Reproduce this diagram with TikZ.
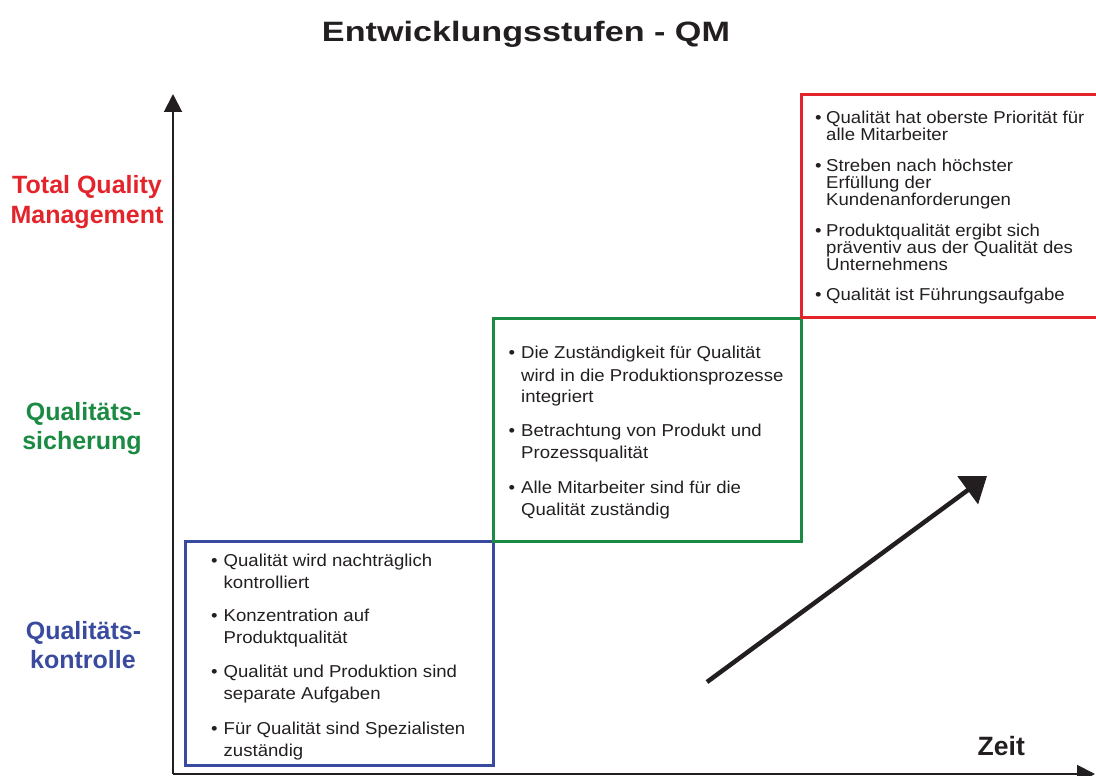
\documentclass[tikz,border=0pt]{standalone}
\usepackage{fontspec}
\usetikzlibrary{arrows.meta}
\newfontfamily\bodyfont{Liberation Sans}[FakeStretch=1.08]
\newfontfamily\headfont{Liberation Sans}[FakeStretch=1.22]
\newfontfamily\labelfont{Liberation Sans}
\definecolor{ink}{HTML}{231F20}
\definecolor{qmred}{HTML}{E3242B}
\definecolor{qmgreen}{HTML}{1B8A43}
\definecolor{qmblue}{HTML}{3A4B9F}
\tikzset{
  line/.style={anchor=base west, inner sep=0pt, text=ink,
    font=\bodyfont\fontsize{17.2}{20}\selectfont},
  stagelabel/.style={anchor=base, inner sep=0pt,
    font=\labelfont\bfseries\fontsize{25}{30}\selectfont},
  stagebox/.style={draw, line width=3pt},
  axis/.style={draw=ink, line width=2pt, -{Triangle[length=18pt,width=18pt]}},
}
\begin{document}
\begin{tikzpicture}[x=1pt, y=-1pt]
\useasboundingbox (0,0) rectangle (1096,776);

% title
\node (title) [anchor=base, inner sep=0pt, text=ink,
  font=\headfont\bfseries\fontsize{28}{32}\selectfont] at (526,41.7)
  {Entwicklungsstufen - QM};

% stage boxes
\draw[stagebox, qmblue]  (185,541) rectangle (493,765.5);
\draw[stagebox, qmgreen] (493,318) rectangle (801,541.5);
\draw[stagebox, qmred]   (801,94.5) rectangle (1100,317);

% axes
\coordinate (O) at (173,774);
\coordinate (ytip) at (173,94);
\coordinate (xtip) at (1095,774);
\draw[axis] (O) -- (ytip);
\draw[axis] (O) -- (xtip);
\node (zeit) [anchor=base west, inner sep=0pt, text=ink,
  font=\labelfont\bfseries\fontsize{26.5}{30}\selectfont] at (977.5,755) {Zeit};

% trend arrow
\coordinate (d0) at (707,682);
\coordinate (d1) at (987,476);
\draw[draw=ink, line width=4.5pt, -{Triangle[length=24pt,width=34pt]}] (d0) -- (d1);

% stage labels
\node (tq1) [stagelabel, text=qmred] at (87,193.5) {Total Quality};
\node (tq2) [stagelabel, text=qmred] at (87,223.5) {Management};
\node (qs1) [stagelabel, text=qmgreen] at (83.5,420.3) {Qualitäts-};
\node (qs2) [stagelabel, text=qmgreen] at (82,449.3) {sicherung};
\node (qk1) [stagelabel, text=qmblue] at (83.5,639.3) {Qualitäts-};
\node (qk2) [stagelabel, text=qmblue] at (83,668.3) {kontrolle};

% TQM items
\node (rb1) [line] at (815,123.5) {•};
\node (r1a) [line] at (826,123.5) {Qualität hat oberste Priorität für};
\node (r1b) [line] at (826,140.5) {alle Mitarbeiter};
\node (rb2) [line] at (815,171) {•};
\node (r2a) [line] at (826,171) {Streben nach höchster};
\node (r2b) [line] at (826,188) {Erfüllung der};
\node (r2c) [line] at (826,205) {Kundenanforderungen};
\node (rb3) [line] at (815,236) {•};
\node (r3a) [line] at (826,236) {Produktqualität ergibt sich};
\node (r3b) [line] at (826,253) {präventiv aus der Qualität des};
\node (r3c) [line] at (826,270) {Unternehmens};
\node (rb4) [line] at (815,300) {•};
\node (r4a) [line] at (826,300) {Qualität ist Führungsaufgabe};

% Qualitaetssicherung items
\node (gb1) [line] at (508.5,358.5) {•};
\node (g1a) [line] at (521,358.5) {Die Zuständigkeit für Qualität};
\node (g1b) [line] at (521,381) {wird in die Produktionsprozesse};
\node (g1c) [line] at (521,402.5) {integriert};
\node (gb2) [line] at (508.5,436.3) {•};
\node (g2a) [line] at (521,436.3) {Betrachtung von Produkt und};
\node (g2b) [line] at (521,458.3) {Prozessqualität};
\node (gb3) [line] at (508.5,493.3) {•};
\node (g3a) [line] at (521,493.3) {Alle Mitarbeiter sind für die};
\node (g3b) [line] at (521,515.3) {Qualität zuständig};

% Qualitaetskontrolle items
\node (bb1) [line] at (211,566.3) {•};
\node (b1a) [line] at (223.5,566.3) {Qualität wird nachträglich};
\node (b1b) [line] at (223.5,588.3) {kontrolliert};
\node (bb2) [line] at (211,621.3) {•};
\node (b2a) [line] at (223.5,621.3) {Konzentration auf};
\node (b2b) [line] at (223.5,643.3) {Produktqualität};
\node (bb3) [line] at (211,677.3) {•};
\node (b3a) [line] at (223.5,677.3) {Qualität und Produktion sind};
\node (b3b) [line] at (223.5,699.3) {separate Aufgaben};
\node (bb4) [line] at (211,734.3) {•};
\node (b4a) [line] at (223.5,734.3) {Für Qualität sind Spezialisten};
\node (b4b) [line] at (223.5,756.3) {zuständig};
\end{tikzpicture}
\end{document}
